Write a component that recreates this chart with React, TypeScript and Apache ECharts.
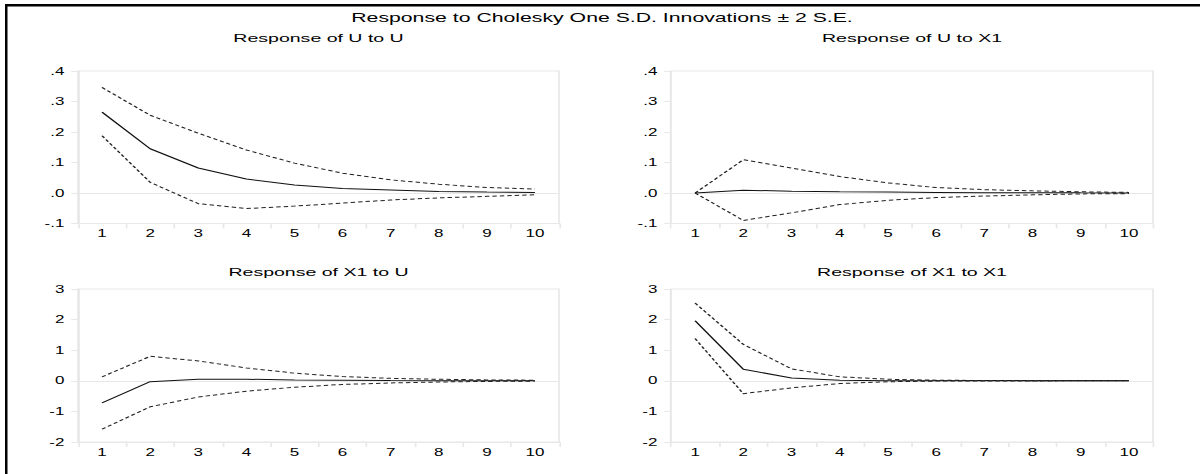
import React, { useEffect, useRef } from "react";
import * as echarts from "echarts";

// ---- data ----
const periods = ["1", "2", "3", "4", "5", "6", "7", "8", "9", "10"];

const mainTitle = "Response to Cholesky One S.D. Innovations \u00B1 2 S.E.";
const panelTitles = [
  "Response of U to U",
  "Response of U to X1",
  "Response of X1 to U",
  "Response of X1 to X1",
];

const topYTicks = [-0.1, 0, 0.1, 0.2, 0.3, 0.4];
const topYLabels = ["-.1", ".0", ".1", ".2", ".3", ".4"];
const bottomYTicks = [-2, -1, 0, 1, 2, 3];
const bottomYLabels = ["-2", "-1", "0", "1", "2", "3"];

const uuMid = [0.265, 0.145, 0.082, 0.046, 0.026, 0.015, 0.01, 0.005, 0.003, 0.002];
const uuUp = [0.346, 0.255, 0.196, 0.141, 0.098, 0.065, 0.043, 0.029, 0.018, 0.013];
const uuLo = [0.188, 0.035, -0.035, -0.051, -0.043, -0.033, -0.023, -0.016, -0.011, -0.006];

const ux1Mid = [0, 0.009, 0.006, 0.004, 0.003, 0.002, 0.001, 0.001, 0.0005, 0.0003];
const ux1Up = [0, 0.109, 0.082, 0.054, 0.033, 0.018, 0.011, 0.007, 0.004, 0.002];
const ux1Lo = [0, -0.09, -0.065, -0.038, -0.024, -0.015, -0.01, -0.006, -0.003, -0.002];

const x1uMid = [-0.72, -0.03, 0.05, 0.05, 0.03, 0.02, 0.01, 0.005, 0.002, 0.001];
const x1uUp = [0.13, 0.8, 0.65, 0.42, 0.25, 0.14, 0.08, 0.05, 0.03, 0.02];
const x1uLo = [-1.58, -0.85, -0.53, -0.34, -0.21, -0.12, -0.07, -0.04, -0.02, -0.01];

const x1x1Mid = [1.96, 0.38, 0.09, 0.02, 0.005, 0.002, 0.001, 0, 0, 0];
const x1x1Up = [2.54, 1.19, 0.39, 0.13, 0.05, 0.02, 0.01, 0.005, 0.003, 0.002];
const x1x1Lo = [1.38, -0.42, -0.23, -0.09, -0.03, -0.01, -0.005, -0.003, -0.002, -0.001];

// ---- layout (real pixels; the chart is stretched horizontally by SX) ----
const SX = 1.7;
const W = 1200 / SX;
const H = 474;
const FONT = "'Liberation Sans', Arial, Helvetica, sans-serif";
const FAINT = "#e8e8e8";

const panels = [
  { l: 78, r: 559, t: 71, b: 223.5, ty: 38, mid: uuMid, up: uuUp, lo: uuLo, top: true },
  { l: 671, r: 1153, t: 71, b: 223.5, ty: 38, mid: ux1Mid, up: ux1Up, lo: ux1Lo, top: true },
  { l: 78, r: 559, t: 289, b: 442, ty: 272, mid: x1uMid, up: x1uUp, lo: x1uLo, top: false },
  { l: 671, r: 1153, t: 289, b: 442, ty: 272, mid: x1x1Mid, up: x1x1Up, lo: x1x1Lo, top: false },
];

function labelFor(ticks: number[], labels: string[]) {
  return (v: number) => {
    const i = ticks.findIndex((t) => Math.abs(t - v) < 1e-9);
    return i >= 0 ? labels[i] : "";
  };
}

export default function App() {
  const ref = useRef<HTMLDivElement>(null);

  useEffect(() => {
    if (!ref.current) return;
    const chart = echarts.init(ref.current, null, { renderer: "svg", width: W, height: H });

    const grid: any[] = [];
    const xAxis: any[] = [];
    const yAxis: any[] = [];
    const series: any[] = [];
    const graphic: any[] = [];

    panels.forEach((p, i) => {
      grid.push({
        left: p.l / SX,
        top: p.t,
        width: (p.r - p.l) / SX,
        height: p.b - p.t,
        show: true,
        borderColor: FAINT,
        borderWidth: 1,
        containLabel: false,
      });
      xAxis.push({
        type: "category",
        gridIndex: i,
        data: periods,
        boundaryGap: true,
        axisLine: { show: true, onZero: false, lineStyle: { color: FAINT } },
        axisTick: { show: true, length: 5, lineStyle: { color: FAINT } },
        axisLabel: { color: "#000", fontSize: 10, fontFamily: FONT, margin: 5 },
        splitLine: { show: false },
      });
      const ticks = p.top ? topYTicks : bottomYTicks;
      const labels = p.top ? topYLabels : bottomYLabels;
      yAxis.push({
        type: "value",
        gridIndex: i,
        min: ticks[0],
        max: ticks[ticks.length - 1],
        interval: p.top ? 0.1 : 1,
        axisLine: { show: true, lineStyle: { color: FAINT } },
        axisTick: { show: true, length: 4, lineStyle: { color: FAINT } },
        axisLabel: {
          color: "#000",
          fontSize: 10,
          fontFamily: FONT,
          margin: 8,
          formatter: labelFor(ticks, labels),
        },
        splitLine: { show: false },
      });
      series.push({
        type: "line",
        xAxisIndex: i,
        yAxisIndex: i,
        data: p.mid,
        symbol: "none",
        lineStyle: { color: "#111", width: 1 },
        z: 3,
        markLine: {
          silent: true,
          symbol: "none",
          label: { show: false },
          lineStyle: { color: FAINT, type: "solid", width: 1 },
          data: [{ yAxis: 0 }],
          z: 1,
        },
      });
      [p.up, p.lo].forEach((d) => {
        series.push({
          type: "line",
          xAxisIndex: i,
          yAxisIndex: i,
          data: d,
          symbol: "none",
          lineStyle: { color: "#222", width: 1, type: [2.6, 1.8] },
          z: 2,
        });
      });
      graphic.push({
        type: "text",
        x: (p.l + p.r) / 2 / SX,
        y: p.ty,
        style: {
          text: panelTitles[i],
          fill: "#000",
          font: `11.5px ${FONT}`,
          textAlign: "center",
          textVerticalAlign: "middle",
        },
      });
    });

    graphic.push(
      {
        type: "text",
        x: 602 / SX,
        y: 18,
        style: {
          text: mainTitle,
          fill: "#000",
          font: `12.5px ${FONT}`,
          textAlign: "center",
          textVerticalAlign: "middle",
        },
      },
      {
        type: "rect",
        shape: { x: 5 / SX, y: 4, width: 2.5 / SX, height: H },
        style: { fill: "#000" },
      },
      {
        type: "rect",
        shape: { x: 5 / SX, y: 4, width: W, height: 2.5 },
        style: { fill: "#000" },
      }
    );

    chart.setOption({
      animation: false,
      backgroundColor: "#fff",
      textStyle: { fontFamily: FONT },
      grid,
      xAxis,
      yAxis,
      series,
      graphic,
    });

    return () => chart.dispose();
  }, []);

  return (
    <div
      style={{
        position: "absolute",
        left: 0,
        top: 0,
        width: 1200,
        height: H,
        overflow: "hidden",
        background: "#fff",
      }}
    >
      <div
        ref={ref}
        style={{
          width: W,
          height: H,
          transform: `scaleX(${SX})`,
          transformOrigin: "0 0",
        }}
      />
    </div>
  );
}
